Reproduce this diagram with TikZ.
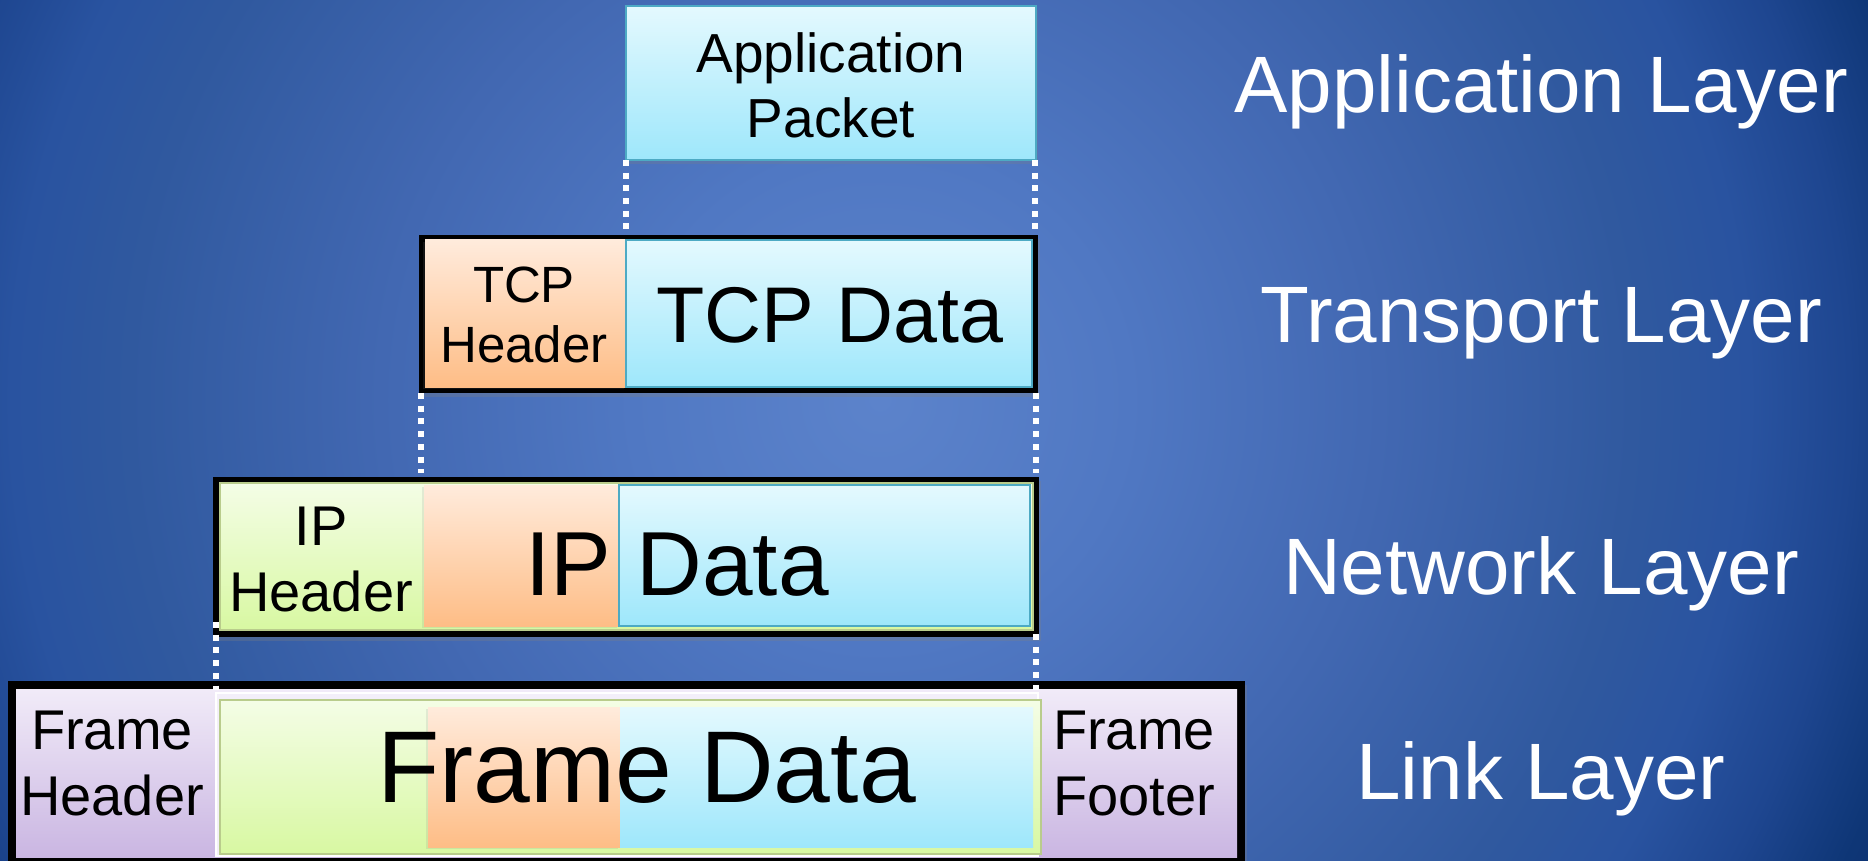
\documentclass[tikz,border=0pt]{standalone}
\usepackage{fontspec}
\setmainfont{Liberation Sans}
\usetikzlibrary{fit,shadows}

% slide background (radius stops in bp, drawn at natural size)
\definecolor{bgA}{HTML}{5C83CB}
\definecolor{bgB}{HTML}{5078C3}
\definecolor{bgC}{HTML}{4268B2}
\definecolor{bgD}{HTML}{30599F}
\definecolor{bgE}{HTML}{2953A0}
\definecolor{bgF}{HTML}{1E4690}
\definecolor{bgG}{HTML}{0E3676}
\definecolor{bgH}{HTML}{0B3070}
\pgfdeclareradialshading{slidebg}{\pgfpoint{0bp}{0bp}}{color(0bp)=(bgA); color(124bp)=(bgB); color(249bp)=(bgC); color(374bp)=(bgD); color(433bp)=(bgE); color(483bp)=(bgF); color(533bp)=(bgG); color(573bp)=(bgH)}

% packet part colours
\definecolor{cyanTop}{HTML}{E4F9FE}
\definecolor{cyanBot}{HTML}{9EE7FB}
\definecolor{tealLine}{HTML}{4DAAC4}
\definecolor{orgTop}{HTML}{FFEBDC}
\definecolor{orgBot}{HTML}{FEBD86}
\definecolor{grnTop}{HTML}{F4FDE6}
\definecolor{grnBot}{HTML}{D8F8A2}
\definecolor{grnLine}{HTML}{B9CC8C}
\definecolor{purTop}{HTML}{F1EBF8}
\definecolor{purBot}{HTML}{CAB6E2}
\definecolor{paleData}{HTML}{F3EFF9}

\tikzset{
  region/.style={rectangle, inner sep=0pt, outer sep=0pt},
  blackframe/.style={region, fill=black,
    drop shadow={opacity=0.3, shadow xshift=1pt, shadow yshift=-2pt}},
  cyanbox/.style={region, top color=cyanTop, bottom color=cyanBot},
  orangebox/.style={region, top color=orgTop, bottom color=orgBot,
    drop shadow={opacity=0.15, shadow xshift=-1pt, shadow yshift=-1pt}},
  greenbox/.style={region, top color=grnTop, bottom color=grnBot, draw=grnLine, line width=0.6pt},
  purplebox/.style={region, top color=purTop, bottom color=purBot},
  dotline/.style={draw=white, line width=3pt, dash pattern=on 3pt off 3.35pt},
  smalltxt/.style={align=center, text=black, inner sep=0pt, font=\fontsize{28pt}{33pt}\selectfont},
  bigtxt/.style={inner sep=0pt, text=black},
  layerlbl/.style={inner sep=0pt, anchor=base, text=white, font=\fontsize{40pt}{48pt}\selectfont},
}

\begin{document}
\begin{tikzpicture}[x=0.5pt, y=-0.5pt]
\useasboundingbox (0,0) rectangle (1868,861);

% background
\begin{scope}
  \clip (0,0) rectangle (1868,861);
  \node (bg) [inner sep=0pt, outer sep=0pt] at (880,400) {\pgfuseshading{slidebg}};
\end{scope}

% ---- application layer ----
\node (app) [cyanbox, draw=tealLine, line width=1pt,
  drop shadow={opacity=0.25, shadow xshift=1pt, shadow yshift=-2pt},
  fit={(626,6) (1036,160)}] {};
\node (apptxt) [align=center, inner sep=0pt, text=black,
  font=\fontsize{27.5pt}{32.5pt}\selectfont] at (831,85) {Application\\Packet};

% ---- transport layer ----
\node (tcpframe) [blackframe, fit={(419,235) (1038,393)}] {};
\node (tcphdr) [orangebox, fit={(425,240) (626,387)}] {};
\node (tcpdata) [cyanbox, draw=tealLine, line width=0.8pt, fit={(626,240) (1032,387)}] {};
\node (tcphdrtxt) [align=center, inner sep=0pt, text=black,
  font=\fontsize{25.5pt}{30pt}\selectfont] at (524,315) {TCP\\Header};
\node (tcpdatatxt) [bigtxt, anchor=base, font=\fontsize{39.5pt}{47pt}\selectfont]
  at (830,343) {TCP Data};

% ---- network layer ----
\node (ipframe) [blackframe, fit={(213,477) (1039,637)}] {};
\node (ipgreen) [greenbox, fit={(220,483) (1033,630)}] {};
\node (iporange) [orangebox, fit={(424,485) (619,626)}] {};
\node (ipcyan) [cyanbox, draw=tealLine, line width=1pt, fit={(619,485) (1030,626)}] {};
\node (iphdr) [smalltxt] at (321,560) {IP\\Header};
\node (ipdata) [bigtxt, anchor=base west, font=\fontsize{45.5pt}{54pt}\selectfont]
  at (525,595) {IP Data};

% ---- link layer ----
\node (linkframe) [blackframe, fit={(8,681) (1245,861)}] {};
\node (linkbg) [purplebox, fit={(16,689) (1237,857)}] {};
\node (fdatabg) [region, fill=paleData, draw=white, line width=0.8pt, fit={(216,693) (1038,856)}] {};
\node (lgreen) [greenbox, fit={(220,700) (1041,854)}] {};
\node (lorange) [orangebox, fit={(428,707) (620,847)}] {};
\node (lcyan) [cyanbox, fit={(620,707) (1033,847)}] {};
\node (fhdr) [smalltxt] at (112,764) {Frame\\Header};
\node (fftr) [smalltxt] at (1134,764) {Frame\\Footer};
\node (fdata) [bigtxt, anchor=base west, font=\fontsize{51pt}{60pt}\selectfont]
  at (377,802) {Frame Data};

% ---- dotted guides between layers ----
\draw[dotline, shorten >=2.5pt] (app.south west) -- (app.south west |- tcpframe.north);
\draw[dotline, shorten >=2.5pt] ([xshift=-0.5pt]app.south east) -- ([xshift=-0.5pt]app.south east |- tcpframe.north);

\coordinate (tl) at ([xshift=1pt]tcpframe.south west);
\coordinate (tr) at ([xshift=-1.25pt]tcpframe.south east);
\draw[dotline, shorten >=2pt] (tl) -- (tl |- ipframe.north);
\draw[dotline, shorten >=2pt] (tr) -- (tr |- ipframe.north);

\coordinate (nl) at ([shift={(1.5pt,7.5pt)}]ipframe.south west);
\coordinate (nr) at ([shift={(-1.5pt,1.5pt)}]ipframe.south east);
\draw[dotline, shorten >=-4.5pt] (nl) -- (nl |- linkframe.north);
\draw[dotline, shorten >=-4.5pt] (nr) -- (nr |- linkframe.north);

% ---- layer names ----
\node (lapp) [layerlbl] at (1541,113) {Application Layer};
\node (ltrn) [layerlbl] at (1541,343) {Transport Layer};
\node (lnet) [layerlbl] at (1541,594) {Network Layer};
\node (llnk) [layerlbl] at (1541,799) {Link Layer};
\end{tikzpicture}
\end{document}
